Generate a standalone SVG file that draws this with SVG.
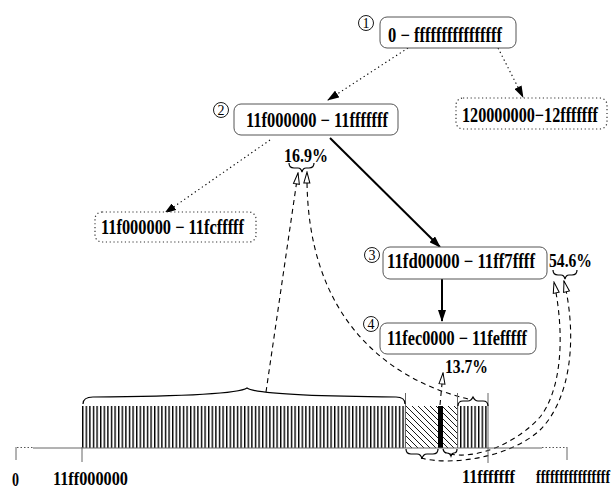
<svg xmlns="http://www.w3.org/2000/svg" width="613" height="489" viewBox="0 0 613 489">
<style>
.t{font-family:"Liberation Serif","Times New Roman",serif;font-weight:bold;font-size:20px;fill:#000}
.p{font-family:"Liberation Serif","Times New Roman",serif;font-weight:bold;font-size:18px;fill:#000}
.c{font-family:"Liberation Serif","Times New Roman",serif;font-size:14px;fill:#000;text-anchor:middle}
.node{fill:#fff;stroke:#555;stroke-width:1}
.dnode{fill:#fff;stroke:#333;stroke-width:1.2;stroke-dasharray:1.2,2.6}
.circ{fill:none;stroke:#000;stroke-width:0.9}
.dot{fill:none;stroke:#000;stroke-width:1.1;stroke-dasharray:1.3,3;marker-end:url(#fa)}
.solid{fill:none;stroke:#000;stroke-width:2;marker-end:url(#fa)}
.dash{fill:none;stroke:#000;stroke-width:1.1;stroke-dasharray:5,4;marker-end:url(#ha)}
.brace{fill:none;stroke:#000;stroke-width:1.2}
.thin{fill:none;stroke:#666;stroke-width:1}
</style>
<defs>
<marker id="fa" markerUnits="userSpaceOnUse" markerWidth="12" markerHeight="8" refX="11" refY="4" orient="auto">
<path d="M0,0 L12,4 L0,8 z" fill="#000"/>
</marker>
<marker id="ha" markerUnits="userSpaceOnUse" markerWidth="13" markerHeight="8" refX="12" refY="4" orient="auto">
<path d="M1,1 L12,4 L1,7 z" fill="#fff" stroke="#000" stroke-width="1"/>
</marker>
<pattern id="vh" patternUnits="userSpaceOnUse" x="82" y="0" width="3.6" height="10">
<rect x="0" y="0" width="1.4" height="10" fill="#000"/>
</pattern>
<pattern id="dh" patternUnits="userSpaceOnUse" x="0" y="0" width="6" height="6">
<path d="M0,0 L6,6 M-1,5 L1,7 M5,-1 L7,1" stroke="#000" stroke-width="0.9"/>
</pattern>
</defs>

<g id="connectors">
<path class="dot" d="M408,48 L328,100"/>
<path class="dot" d="M498,48 L523,97"/>
<path class="dot" d="M270,140 L165,213"/>
<path class="solid" d="M330,138 L440,247"/>
<path class="solid" d="M442,279 L442,321"/>
<path class="dash" d="M266,392 L298,173"/>
<path class="dash" d="M468,399 C390,380 305,320 307,172"/>
<path class="dash" d="M421,458 C450,466 510,458 540,430 C570,400 578,340 564,281"/>
<path class="dash" d="M450,454 C480,460 520,440 540,417 C560,392 566,340 554,282"/>
<path class="dash" d="M440,405 L443,373"/>
</g>

<g id="node1">
<rect class="node" x="380" y="17" width="136" height="31" rx="7"/>
<text class="t" x="388" y="42" textLength="114" lengthAdjust="spacingAndGlyphs">0 − ffffffffffffffff</text>
<circle class="circ" cx="366" cy="23" r="7.5"/>
<text class="c" x="366" y="28">1</text>
</g>

<g id="node-right">
<rect class="dnode" x="456" y="98" width="151" height="31" rx="7"/>
<text class="t" x="462" y="122" textLength="136" lengthAdjust="spacingAndGlyphs">120000000−12fffffff</text>
</g>

<g id="node2">
<rect class="node" x="234" y="104" width="164" height="31" rx="7"/>
<text class="t" x="246" y="127" textLength="142" lengthAdjust="spacingAndGlyphs">11f000000 − 11fffffff</text>
<circle class="circ" cx="221" cy="110" r="7.5"/>
<text class="c" x="221" y="115">2</text>
</g>

<g id="node-left">
<rect class="dnode" x="95" y="212" width="161" height="30" rx="7"/>
<text class="t" x="101" y="234" textLength="143" lengthAdjust="spacingAndGlyphs">11f000000 − 11fcfffff</text>
</g>

<g id="node3">
<rect class="node" x="383" y="247" width="164" height="32" rx="7"/>
<text class="t" x="387" y="268" textLength="148" lengthAdjust="spacingAndGlyphs">11fd00000 − 11ff7ffff</text>
<circle class="circ" cx="372" cy="255" r="7.5"/>
<text class="c" x="372" y="260">3</text>
</g>

<g id="node4">
<rect class="node" x="380" y="323" width="156" height="31" rx="7"/>
<text class="t" x="387" y="345" textLength="140" lengthAdjust="spacingAndGlyphs">11fec0000 − 11fefffff</text>
<circle class="circ" cx="371" cy="324" r="7.5"/>
<text class="c" x="371" y="329">4</text>
</g>

<g id="labels">
<text class="p" x="284" y="162" textLength="44" lengthAdjust="spacingAndGlyphs">16.9%</text>
<path class="brace" d="M289,163 Q289,168 294,168 L298,168 Q301,168 302,172 Q303,168 306,168 L309,168 Q314,168 314,163"/>
<text class="p" x="549" y="267" textLength="43" lengthAdjust="spacingAndGlyphs">54.6%</text>
<path class="brace" d="M553,270 Q553,275 558,275 L561,275 Q564,275 565,279 Q566,275 569,275 L572,275 Q577,275 577,270"/>
<text class="p" x="445" y="373" textLength="43" lengthAdjust="spacingAndGlyphs">13.7%</text>
</g>

<g id="bar">
<rect x="82" y="406" width="323" height="42" fill="url(#vh)"/>
<rect x="405" y="406" width="33" height="42" fill="url(#dh)"/>
<rect x="438" y="406" width="5" height="42" fill="#000"/>
<rect x="443" y="406" width="14" height="42" fill="url(#dh)"/>
<rect x="457" y="406" width="31" height="42" fill="url(#vh)"/>
<line class="thin" x1="405.5" y1="393" x2="405.5" y2="448"/>
<line class="thin" x1="457.5" y1="393" x2="457.5" y2="448"/>
<line class="thin" x1="488" y1="393" x2="488" y2="463"/>
<path class="brace" d="M83,404 Q83,397 93,397 Q236,396 247,388 Q258,396 396,397 Q405,397 405,404"/>
<path class="brace" d="M458,406 Q458,401 463,401 L468,401 Q471,401 473,397 Q475,401 478,401 L483,401 Q488,401 488,406"/>
<path class="brace" d="M406,449 Q406,454 411,454 L417,454 Q421,454 422,459 Q423,454 427,454 L433,454 Q438,454 438,449"/>
<path class="brace" d="M443,449 Q444,453 447,453 Q450,453 451,456 Q452,453 454,453 Q457,453 457,449"/>
</g>

<g id="axis">
<line class="thin" x1="33" y1="448" x2="542" y2="448"/>
<line x1="17" y1="447.5" x2="33" y2="447.5" stroke="#555" stroke-width="1" stroke-dasharray="1.5,2"/>
<line x1="542" y1="447.5" x2="567" y2="447.5" stroke="#555" stroke-width="1" stroke-dasharray="1.5,2"/>
<line class="thin" x1="16" y1="447" x2="16" y2="460"/>
<line class="thin" x1="82" y1="447" x2="82" y2="462"/>
<line class="thin" x1="567" y1="447" x2="567" y2="460"/>
<text class="p" x="12" y="486" textLength="7" lengthAdjust="spacingAndGlyphs">0</text>
<text class="p" x="53" y="485" textLength="75" lengthAdjust="spacingAndGlyphs">11ff000000</text>
<text class="p" x="462" y="483" textLength="53" lengthAdjust="spacingAndGlyphs">11fffffff</text>
<text class="p" x="536" y="483" textLength="74" lengthAdjust="spacingAndGlyphs">ffffffffffffffff</text>
</g>
</svg>
